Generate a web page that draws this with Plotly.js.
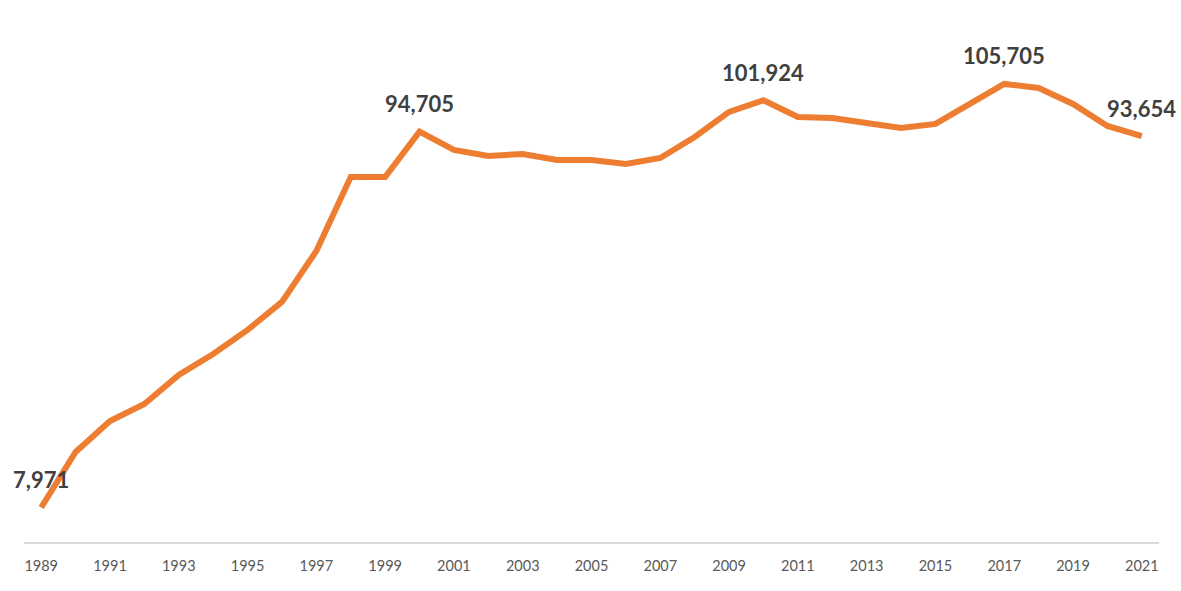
<!DOCTYPE html>
<html>
<head>
<meta charset="utf-8">
<script src="https://cdn.plot.ly/plotly-3.0.1.min.js"></script>
<style>
  html, body { margin: 0; padding: 0; background: #ffffff; }
  #chart { width: 1181px; height: 591px; }
</style>
</head>
<body>
<div id="chart"></div>
<script>
const years = [1989, 1990, 1991, 1992, 1993, 1994, 1995, 1996, 1997, 1998, 1999,
  2000, 2001, 2002, 2003, 2004, 2005, 2006, 2007, 2008, 2009, 2010,
  2011, 2012, 2013, 2014, 2015, 2016, 2017, 2018, 2019, 2020, 2021];
const values = [7971, 20779, 27933, 31857, 38549, 43396, 48934, 55396, 67166, 84244, 84244,
  94705, 90475, 89090, 89552, 88167, 88167, 87244, 88629, 93475, 99244, 101924,
  98091, 97860, 96706, 95552, 96475, 101091, 105705, 104783, 101091, 96014, 93654];
const labelYears = [1989, 2000, 2010, 2017, 2021];
const labelTexts = ["7,971", "94,705", "101,924", "105,705", "93,654"];
const tickYears = [1989, 1991, 1993, 1995, 1997, 1999, 2001, 2003, 2005, 2007, 2009, 2011, 2013, 2015, 2017, 2019, 2021];

const annotations = labelYears.map((yr, i) => ({
  x: yr,
  y: values[years.indexOf(yr)],
  xref: 'x', yref: 'y',
  text: labelTexts[i],
  showarrow: false,
  yshift: 28,
  font: { family: 'Lato, sans-serif', size: 22, color: '#404040', weight: 'bold' }
}));

const trace = {
  x: years,
  y: values,
  type: 'scatter',
  mode: 'lines',
  line: { color: '#ED7D31', width: 6, shape: 'linear' },
  hoverinfo: 'x+y'
};

const layout = {
  width: 1181,
  height: 591,
  margin: { l: 24, r: 22, t: 22, b: 49 },
  paper_bgcolor: '#ffffff',
  plot_bgcolor: '#ffffff',
  showlegend: false,
  xaxis: {
    range: [1988.5, 2021.5],
    tickmode: 'array',
    tickvals: tickYears,
    ticktext: tickYears.map(String),
    showgrid: false,
    zeroline: false,
    showline: true,
    linecolor: '#D9D9D9',
    linewidth: 1.5,
    ticks: '',
    ticklabelstandoff: 10,
    tickfont: { family: 'Lato, sans-serif', size: 14.5, color: '#595959' }
  },
  yaxis: {
    range: [0, 120000],
    showgrid: false,
    zeroline: false,
    showline: false,
    showticklabels: false,
    ticks: ''
  },
  annotations: annotations
};

Plotly.newPlot('chart', [trace], layout, { displayModeBar: false, staticPlot: true });
</script>
</body>
</html>
